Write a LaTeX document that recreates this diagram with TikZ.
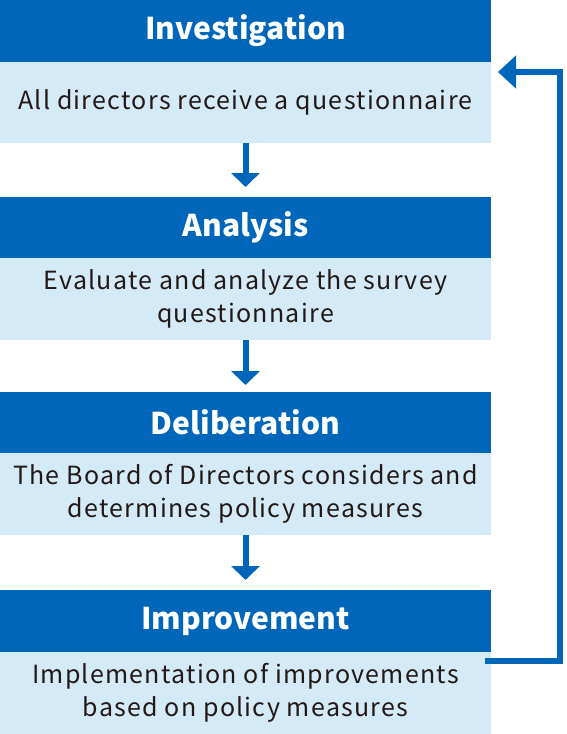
\documentclass[tikz,border=0pt]{standalone}
\usepackage{fontspec}
\setmainfont{Noto Sans CJK JP}
\newfontfamily\bodyfont[LetterSpace=5]{Noto Sans CJK JP}
\usetikzlibrary{arrows.meta,calc}
\definecolor{hdrblue}{RGB}{0,102,185}
\definecolor{bodyblue}{RGB}{212,234,247}
\definecolor{txt}{RGB}{35,24,21}
\tikzset{
  x=1pt,y=1pt,
  hdr/.style={fill=hdrblue, text=white, minimum width=491pt, inner sep=0pt, outer sep=0pt, anchor=north west, font=\fontsize{30}{30}\selectfont\bfseries},
  bodybox/.style={fill=bodyblue, text=txt, minimum width=491pt, inner sep=0pt, outer sep=0pt, anchor=north west, align=center, font=\bodyfont\fontsize{25}{33}\selectfont},
  down/.style={draw=hdrblue, line width=6pt, -{Triangle[length=14pt,width=28pt]}},
  back/.style={draw=hdrblue, line width=6pt, -{Triangle[length=18pt,width=32pt]}}
}
\begin{document}
\begin{tikzpicture}
\useasboundingbox (0,0) rectangle (567,-734);
\node[hdr, minimum height=62pt] (h1) at (0,0) {Investigation};
\node[bodybox, minimum height=81pt] (b1) at (0,-62) {All directors receive a questionnaire};
\node[hdr, minimum height=61pt] (h2) at (0,-197) {Analysis};
\node[bodybox, minimum height=82pt] (b2) at (0,-258) {Evaluate and analyze the survey\\questionnaire};
\node[hdr, minimum height=61pt] (h3) at (0,-392) {Deliberation};
\node[bodybox, minimum height=82pt] (b3) at (0,-453) {The Board of Directors considers and\\determines policy measures};
\node[hdr, minimum height=62pt] (h4) at (0,-590) {Improvement};
\node[bodybox, minimum height=82pt] (b4) at (0,-652) {Implementation of improvements\\based on policy measures};
\draw[down] (b1.south) -- ($(h2.north)+(0,10)$);
\draw[down] (b2.south) -- ($(h3.north)+(0,7)$);
\draw[down] (b3.south) -- ($(h4.north)+(0,10)$);
\coordinate (fbs) at ($(b4.north east)+(-6,-9)$);
\coordinate (fbe) at ($(b1.north east)+(7,-10)$);
\draw[back] (fbs) -- (fbs -| 560,0) -- (fbe -| 560,0) -- (fbe);
\end{tikzpicture}
\end{document}
